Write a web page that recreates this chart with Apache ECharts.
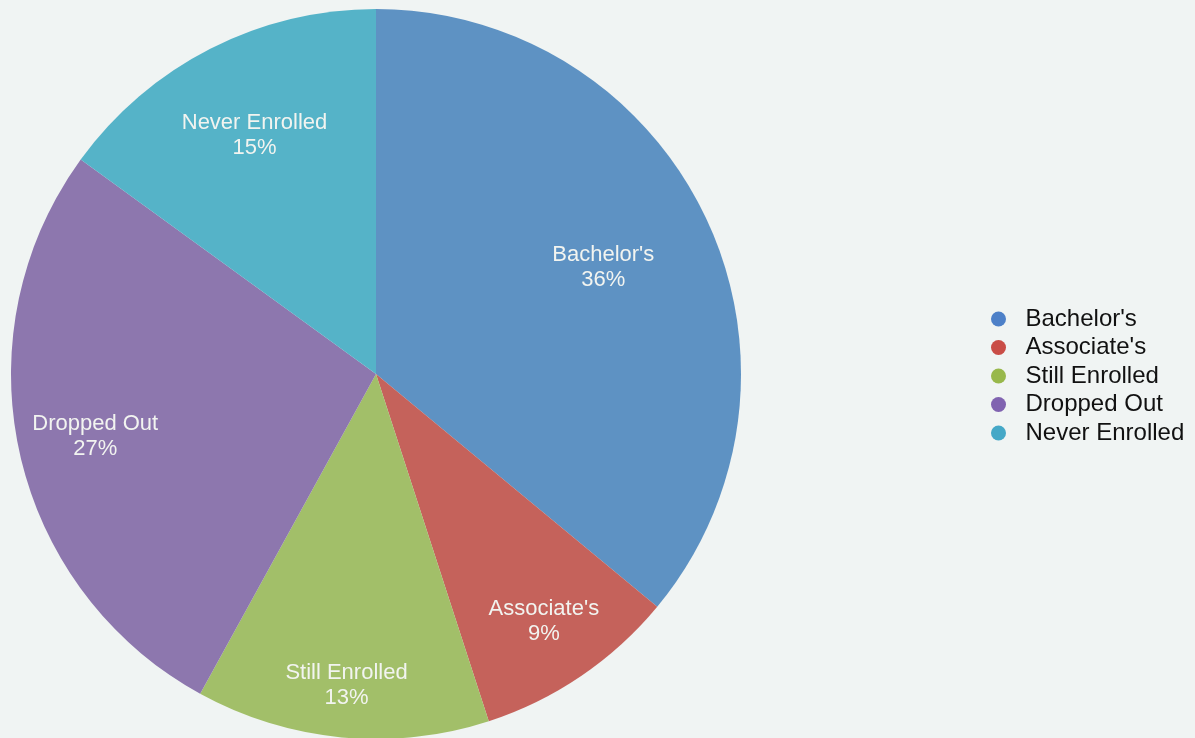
<!DOCTYPE html>
<html>
<head>
<meta charset="utf-8">
<style>
html,body{margin:0;padding:0;background:#f0f4f3;}
#chart{width:1195px;height:738px;}
</style>
<script src="https://cdn.jsdelivr.net/npm/echarts@6/dist/echarts.min.js"></script>
</head>
<body>
<div id="chart"></div>
<script>
const categories = ["Bachelor's", "Associate's", "Still Enrolled", "Dropped Out", "Never Enrolled"];
const values = [36, 9, 13, 27, 15];

const sliceColors = ['#5e92c3', '#c5625b', '#a2bf69', '#8d77ae', '#55b3c8'];
const legendColors = ['#4d80c8', '#c94d46', '#98b84b', '#8063b0', '#45a8c7'];
const labelRadiusRatio = [0.68, 0.81, 0.85, 0.78, 0.725];

const R = 365;
const center = [376, 374];

const chart = echarts.init(document.getElementById('chart'), null, {renderer: 'canvas'});

const mainSeries = {
  type: 'pie',
  center: center,
  radius: [0, R],
  startAngle: 90,
  clockwise: true,
  avoidLabelOverlap: false,
  silent: true,
  label: {show: false},
  labelLine: {show: false},
  itemStyle: {borderWidth: 0},
  data: categories.map((c, i) => ({name: c, value: values[i], itemStyle: {color: sliceColors[i]}}))
};

const labelSeries = categories.map((c, k) => ({
  type: 'pie',
  center: center,
  radius: [labelRadiusRatio[k] * R - 8, labelRadiusRatio[k] * R + 8],
  startAngle: 90,
  clockwise: true,
  avoidLabelOverlap: false,
  silent: true,
  z: 5,
  itemStyle: {color: 'transparent', borderWidth: 0},
  labelLine: {show: false},
  label: {show: false},
  data: categories.map((n, i) => ({
    name: n,
    value: values[i],
    label: {
      show: i === k,
      position: 'inside',
      formatter: '{b}\n{d}%',
      color: '#f2f4f0',
      fontFamily: 'Liberation Sans, Arial, sans-serif',
      fontSize: 22,
      lineHeight: 25
    }
  }))
}));

chart.setOption({
  backgroundColor: '#f0f4f3',
  animation: false,
  legend: {
    orient: 'vertical',
    left: 986,
    top: 302,
    itemWidth: 44,
    itemHeight: 15,
    itemGap: 4.5,
    icon: 'circle',
    textStyle: {color: '#111', fontSize: 24, lineHeight: 24, fontFamily: 'Liberation Sans, Arial, sans-serif'},
    data: categories.map((c, i) => ({name: c, itemStyle: {color: legendColors[i]}}))
  },
  series: [mainSeries].concat(labelSeries)
});
</script>
</body>
</html>
